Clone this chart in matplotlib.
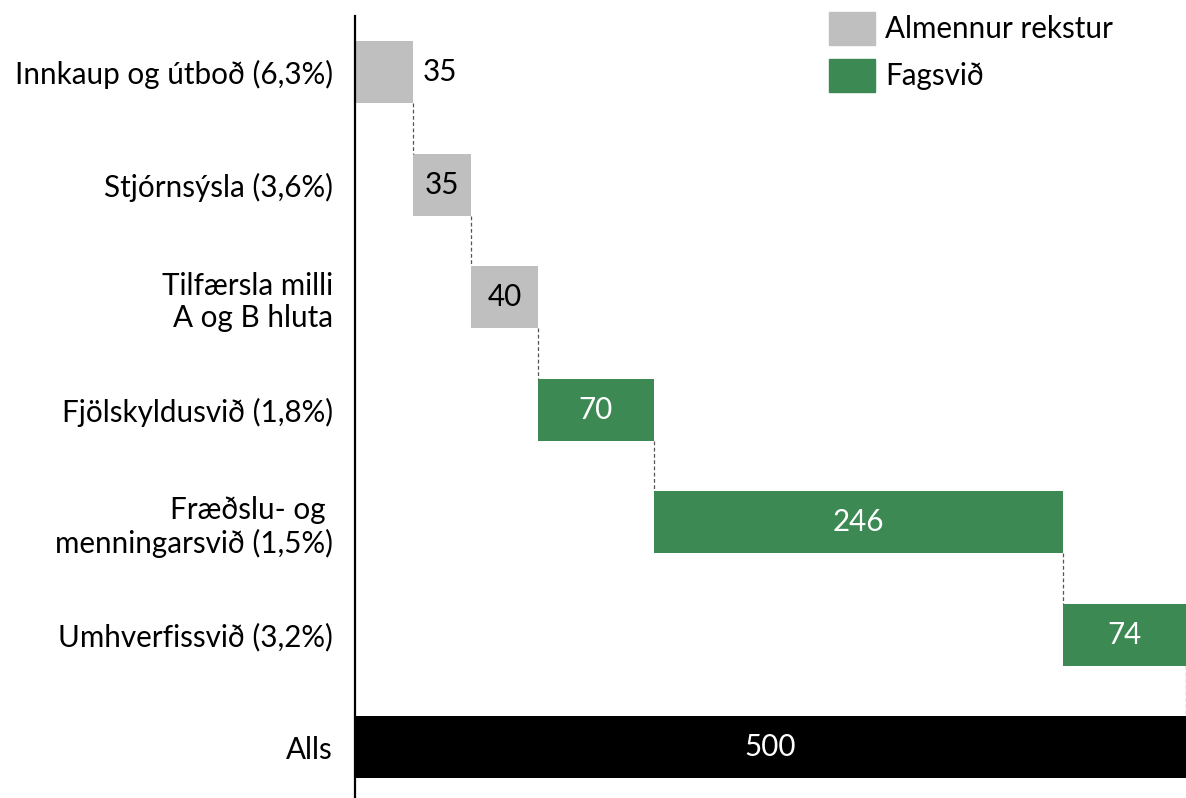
import matplotlib
matplotlib.use("Agg")
import matplotlib.pyplot as plt
from matplotlib.patches import Patch

categories = ["Innkaup og útboð (6,3%)", "Stjórnsýsla (3,6%)", "Tilfærsla milli\nA og B hluta",
              "Fjölskyldusvið (1,8%)", "Fræðslu- og \nmenningarsvið (1,5%)", "Umhverfissvið (3,2%)", "Alls"]
values = [35, 35, 40, 70, 246, 74, 500]
groups = ["Almennur rekstur", "Almennur rekstur", "Almennur rekstur", "Fagsvið", "Fagsvið", "Fagsvið", "Alls"]
colors = {"Almennur rekstur": "#BFBFBF", "Fagsvið": "#3C8953", "Alls": "#000000"}

plt.rcParams['font.family'] = ['Lato', 'DejaVu Sans']
FS = 21.3
fig = plt.figure(figsize=(11.86, 7.98), dpi=100)
ax = fig.add_axes([355/1186, 0, 1 - 355/1186, (798-16)/798])

ypos = list(range(len(categories)))
starts = []
cum = 0
for i, v in enumerate(values):
    if groups[i] == "Alls":
        starts.append(0)
    else:
        starts.append(cum)
        cum += v

h = 0.55
for i, v in enumerate(values):
    ax.barh(ypos[i], v, left=starts[i], height=h, color=colors[groups[i]])
    end = starts[i] + v
    if i == 0:
        ax.text(end + 6, ypos[i], str(v), va='center', ha='left', fontsize=FS, color='black')
    else:
        tc = 'black' if groups[i] == "Almennur rekstur" else 'white'
        ax.text(starts[i] + v/2, ypos[i], str(v), va='center', ha='center', fontsize=FS, color=tc)
    if i < len(values) - 1:
        ax.plot([end, end], [ypos[i] + h/2, ypos[i+1] - h/2], color='#555555', lw=0.9, ls=(0, (3, 2)))

ax.set_xlim(0, 500)
ax.set_ylim(6.45, -0.5)
ax.set_yticks(ypos)
ax.set_yticklabels(categories, fontsize=FS)
ax.tick_params(axis='y', length=0, pad=16)
ax.set_xticks([])
for s in ['top', 'right', 'bottom']:
    ax.spines[s].set_visible(False)
ax.spines['left'].set_linewidth(1.6)

handles = [Patch(color=colors["Almennur rekstur"], label="Almennur rekstur"),
           Patch(color=colors["Fagsvið"], label="Fagsvið")]
fig.legend(handles=handles, loc='upper left', bbox_to_anchor=(829/1186, 1 - 12/798), frameon=False,
           borderpad=0, borderaxespad=0,
           fontsize=FS, handlelength=1.55, handleheight=1.35, labelspacing=0.45, handletextpad=0.35)

fig.savefig("out.png", dpi=100)
